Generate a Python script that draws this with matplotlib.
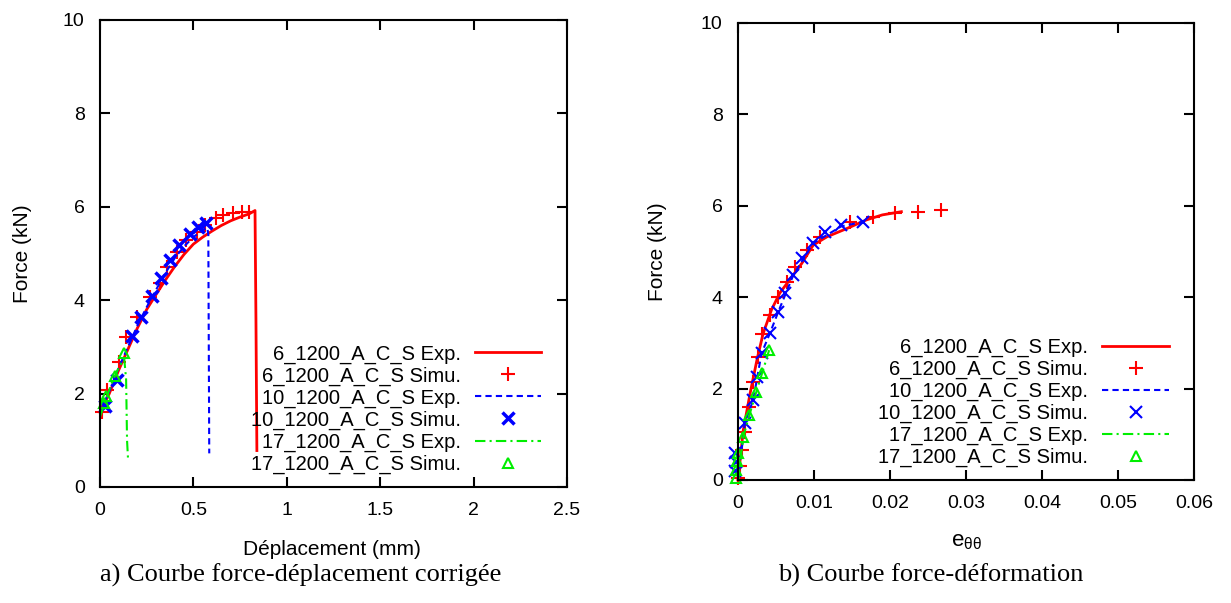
import matplotlib
matplotlib.use("Agg")
import matplotlib.pyplot as plt

plt.rcParams['font.family'] = ['Liberation Sans', 'DejaVu Sans']

# --- a) force vs displacement ---
d6_exp = [0.0, 0.05, 0.1, 0.15, 0.2, 0.25, 0.3, 0.35, 0.4, 0.45, 0.5, 0.55, 0.6, 0.65, 0.7, 0.75, 0.8, 0.83, 0.835, 0.84]
f6_exp = [1.6, 2.0, 2.5, 2.95, 3.4, 3.8, 4.12, 4.43, 4.72, 4.98, 5.2, 5.35, 5.48, 5.6, 5.7, 5.78, 5.85, 5.92, 3.6, 0.78]
d6_sim = [0.01, 0.04, 0.1, 0.14, 0.2, 0.27, 0.32, 0.36, 0.41, 0.46, 0.52, 0.56, 0.62, 0.66, 0.71, 0.76, 0.8]
f6_sim = [1.61, 2.08, 2.67, 3.22, 3.65, 4.07, 4.37, 4.71, 5.03, 5.29, 5.46, 5.61, 5.76, 5.82, 5.86, 5.89, 5.89]
d10_exp = [0.0, 0.05, 0.1, 0.15, 0.2, 0.25, 0.3, 0.35, 0.4, 0.45, 0.5, 0.55, 0.575, 0.58, 0.585]
f10_exp = [1.6, 2.05, 2.55, 3.0, 3.45, 3.85, 4.22, 4.58, 4.9, 5.15, 5.35, 5.5, 5.55, 5.4, 0.72]
d10_sim = [0.027, 0.089, 0.17, 0.22, 0.28, 0.325, 0.375, 0.425, 0.48, 0.527, 0.57]
f10_sim = [1.73, 2.29, 3.24, 3.65, 4.09, 4.47, 4.86, 5.18, 5.41, 5.56, 5.65]
d17_exp = [0.0, 0.03, 0.06, 0.1, 0.13, 0.14, 0.145, 0.15]
f17_exp = [1.5, 1.85, 2.2, 2.55, 2.75, 2.3, 1.0, 0.62]
d17_sim = [0.02, 0.03, 0.08, 0.13]
f17_sim = [1.8, 1.95, 2.37, 2.87]

# --- b) force vs hoop strain ---
e6_exp = [0.0, 0.0007, 0.0016, 0.0025, 0.0033, 0.0044, 0.0055, 0.0068, 0.0084, 0.0099, 0.0117, 0.0143, 0.0169, 0.019, 0.0215]
g6_exp = [0.0, 1.09, 1.9, 2.63, 3.2, 3.72, 4.09, 4.38, 4.74, 5.14, 5.32, 5.5, 5.69, 5.8, 5.87]
e6_sim = [0.0, 0.0002, 0.0005, 0.0009, 0.0014, 0.002, 0.0026, 0.0032, 0.0042, 0.0053, 0.0064, 0.0075, 0.0091, 0.0108, 0.0147, 0.0178, 0.0207, 0.0237, 0.0267]
g6_sim = [0.05, 0.3, 0.65, 1.05, 1.6, 2.15, 2.7, 3.2, 3.6, 4.0, 4.33, 4.66, 5.03, 5.32, 5.65, 5.76, 5.84, 5.86, 5.9]
e10_exp = [0.0, 0.0009, 0.002, 0.0031, 0.0042, 0.0053, 0.0073, 0.0099, 0.0136, 0.0165]
g10_exp = [0.0, 1.25, 1.75, 2.77, 3.21, 3.68, 4.49, 5.18, 5.55, 5.65]
e10_sim = [-0.0004, -0.0003, -0.0004, 0.0009, 0.002, 0.0025, 0.0031, 0.0042, 0.0053, 0.0062, 0.0073, 0.0084, 0.0099, 0.0114, 0.0136, 0.0165]
g10_sim = [0.2, 0.4, 0.6, 1.25, 1.75, 2.26, 2.77, 3.21, 3.68, 4.09, 4.49, 4.86, 5.18, 5.43, 5.58, 5.65]
e17_exp = [0.0, 0.0007, 0.0015, 0.0024, 0.0032, 0.0041]
g17_exp = [0.0, 0.95, 1.42, 1.92, 2.35, 2.84]
e17_sim = [-0.0002, -0.0002, -0.0001, 0.0, 0.0007, 0.0015, 0.0024, 0.0032, 0.0041]
g17_sim = [0.05, 0.22, 0.42, 0.6, 0.95, 1.42, 1.92, 2.35, 2.84]

labels = ["6_1200_A_C_S Exp.", "6_1200_A_C_S Simu.",
          "10_1200_A_C_S Exp.", "10_1200_A_C_S Simu.",
          "17_1200_A_C_S Exp.", "17_1200_A_C_S Simu."]

fig = plt.figure(figsize=(12.31, 6.03), dpi=100)
ax1 = fig.add_axes([0.0812, 0.1924, 0.3794, 0.7745])
ax2 = fig.add_axes([0.5995, 0.204, 0.3704, 0.758])


def draw(ax, data, xmew):
    (x6, y6, sx6, sy6, x10, y10, sx10, sy10, x17, y17, sx17, sy17) = data
    ax.plot(x6, y6, color='red', lw=2, label=labels[0])
    ax.plot(sx6, sy6, ls='none', marker='+', ms=10, mew=1.5, color='red', label=labels[1])
    ax.plot(x10, y10, color='blue', lw=1.5, ls=(0, (3, 2)), label=labels[2])
    ax.plot(sx10, sy10, ls='none', marker='x', ms=8, mew=xmew, color='blue', label=labels[3])
    ax.plot(x17, y17, color='#00ee00', lw=1.5, ls=(0, (5, 2, 1, 2)), label=labels[4])
    ax.plot(sx17, sy17, ls='none', marker='^', ms=7, mew=1.5, mfc='none', color='#00ee00', label=labels[5])
    for s in ax.spines.values():
        s.set_linewidth(1.5)
    ax.tick_params(direction='in', top=True, right=True, length=7, width=1.5,
                   labelsize=14, pad=11)
    ax.set_ylim(0, 10)
    ax.set_yticks([0, 2, 4, 6, 8, 10])
    ax.set_ylabel("Force (kN)", fontsize=15)
    ax.legend(loc='lower right', bbox_to_anchor=(0.945, 0.028), frameon=False,
              markerfirst=False, fontsize=14.5, labelspacing=0.14,
              handlelength=3.3, handletextpad=0.7, borderpad=0, borderaxespad=0)


draw(ax1, (d6_exp, f6_exp, d6_sim, f6_sim, d10_exp, f10_exp, d10_sim, f10_sim,
           d17_exp, f17_exp, d17_sim, f17_sim), 2.5)
ax1.set_xlim(0, 2.5)
ax1.set_xticks([0, 0.5, 1, 1.5, 2, 2.5])
ax1.set_xticklabels(["0", "0.5", "1", "1.5", "2", "2.5"])
ax1.set_xlabel("Déplacement (mm)", fontsize=15)
ax1.yaxis.set_label_coords(-0.146, 0.5)
ax1.xaxis.set_label_coords(0.497, -0.113)

draw(ax2, (e6_exp, g6_exp, e6_sim, g6_sim, e10_exp, g10_exp, e10_sim, g10_sim,
           e17_exp, g17_exp, e17_sim, g17_sim), 1.5)
ax2.set_xlim(0, 0.06)
ax2.set_xticks([0, 0.01, 0.02, 0.03, 0.04, 0.05, 0.06])
ax2.set_xticklabels(["0", "0.01", "0.02", "0.03", "0.04", "0.05", "0.06"])
ax2.set_xlabel(r"e$_{\mathregular{θθ}}$", fontsize=16)
ax2.yaxis.set_label_coords(-0.156, 0.5)
ax2.xaxis.set_label_coords(0.502, -0.112)

for ax in (ax1, ax2):
    for ln in ax.get_lines():
        ln.set_clip_on(False)

fig.text(0.244, 0.046, "a) Courbe force-déplacement corrigée", ha='center', va='center',
         family='Liberation Serif', fontsize=19)
fig.text(0.756, 0.046, "b) Courbe force-déformation", ha='center', va='center',
         family='Liberation Serif', fontsize=19)

fig.savefig("out.png", dpi=100)
